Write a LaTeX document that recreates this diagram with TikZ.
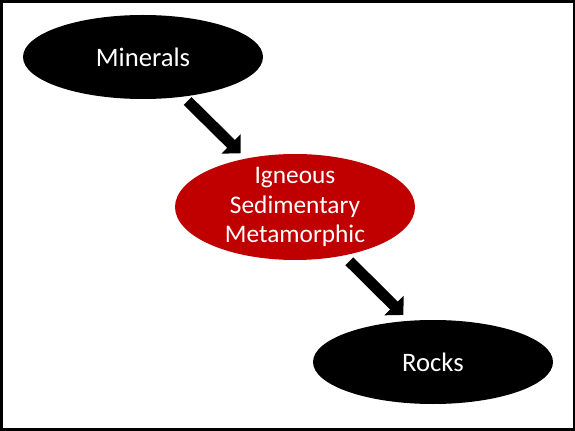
\documentclass[tikz,border=0pt]{standalone}
\usepackage{fontspec}
\setmainfont{Carlito}
\usetikzlibrary{shapes.geometric}
\usetikzlibrary{arrows.meta}
\definecolor{rockred}{HTML}{C00000}
\tikzset{blob/.style = {shape=ellipse,fill=black,text=white,minimum width=180pt,minimum height=63pt,font=\fontsize{20}{24}\selectfont}}
\tikzset{redblob/.style = {blob,fill=rockred,minimum height=79.5pt,inner sep=-12pt,align=center,font=\fontsize{19}{22}\selectfont}}
\tikzset{flow/.style = {line width=8.3pt,-{Triangle[width=20pt,length=10pt]}}}

\begin{document}
\begin{tikzpicture}[x=0.75pt,y=-0.75pt]
                \useasboundingbox (0,0) rectangle (575,431);
                \draw[line width=2.25pt] (1.5,1.5) rectangle (574.5,429.5);

                \node[blob] (minerals) at (143,57) {Minerals};
                \node[redblob] (types) at (295,207) {Igneous\\Sedimentary\\Metamorphic};
                \node[blob] (rocks) at (433,362) {Rocks};

                \draw[flow, shorten <=4.5pt, shorten >=5.5pt] (minerals) -- (types);
                \draw[flow, shorten <=6pt, shorten >=6pt] (types.-45) -- (rocks.120);
            \end{tikzpicture}
\end{document}
